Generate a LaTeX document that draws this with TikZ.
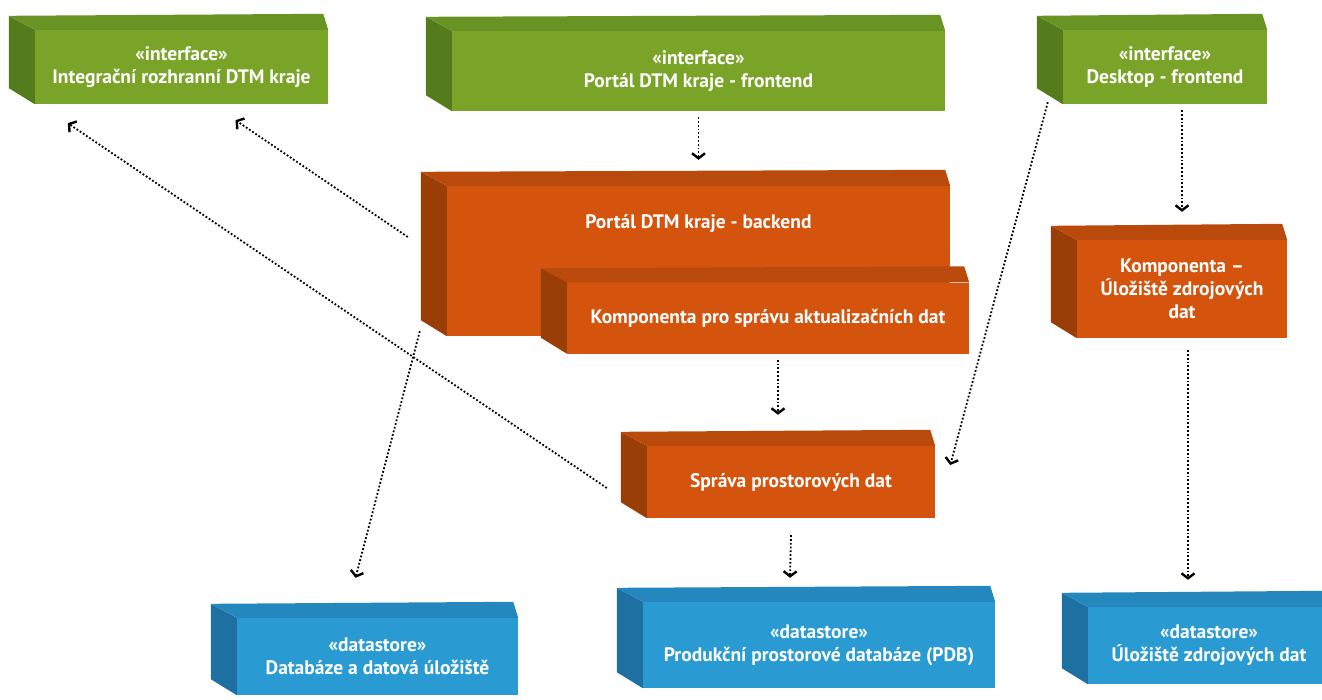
\documentclass[tikz,border=0pt]{standalone}
\usepackage{fontspec}
\setmainfont{PT Sans}
\usetikzlibrary{arrows.meta, positioning}

\definecolor{ifront}{HTML}{7AA428}
\definecolor{itop}{HTML}{699322}
\definecolor{iside}{HTML}{557C1C}
\definecolor{cfront}{HTML}{D4540E}
\definecolor{ctop}{HTML}{BA4A0C}
\definecolor{cside}{HTML}{9A3E08}
\definecolor{dfront}{HTML}{2A9BD2}
\definecolor{dtop}{HTML}{2488BE}
\definecolor{dside}{HTML}{1E70A2}

% side and top faces behind a front face
\newcommand\boxfaces[3]{%
  \fill[#2] (#1.north west) -- ++(-26,-14) -- ([shift={(-26,-16)}]#1.south west) -- (#1.south west) -- cycle;
  \fill[#3] (#1.north west) -- ++(-26,-14) -- ([shift={(-5,-16)}]#1.north east) -- (#1.north east) -- cycle;
}

\begin{document}
\begin{tikzpicture}[x=1pt, y=-1pt,
    front/.style={text=white, font=\bfseries\fontsize{19.5}{23}\selectfont, align=center, inner sep=0pt},
    iface/.style={front, fill=ifront},
    comp/.style={front, fill=cfront},
    store/.style={front, fill=dfront},
    dep/.style={dotted, line width=1.8pt, arrows = {-Straight Barb[length=5pt, width=13pt, line width=2.4pt]}}]

    \useasboundingbox (0,0) rectangle (1322,699);

    %% interfaces
    % Nodes
    \node[iface, minimum width=293pt, minimum height=74pt] (integr) at (181.5,67) {«interface»\\Integrační rozhranní DTM kraje};
    \boxfaces{integr}{iside}{itop}
    \node[iface, minimum width=493pt, minimum height=80pt] (portal) at (698.5,71) {«interface»\\Portál DTM kraje - frontend};
    \boxfaces{portal}{iside}{itop}
    \node[iface, minimum width=204pt, minimum height=74pt] (desktop) at (1165,67) {«interface»\\Desktop - frontend};
    \boxfaces{desktop}{iside}{itop}

    %% components
    % Nodes
    \node[comp, minimum width=503pt, minimum height=150pt, text depth=80pt] (backend) at (698.5,261) {Portál DTM kraje - backend};
    \boxfaces{backend}{cside}{ctop}
    \node[comp, minimum width=402pt, minimum height=71pt] (aktual) at (768,318) {Komponenta pro správu aktualizačních dat};
    \boxfaces{aktual}{cside}{ctop}
    \node[comp, minimum width=210pt, minimum height=98pt] (zdroje) at (1182,289) {Komponenta –\\Úložiště zdrojových\\dat};
    \boxfaces{zdroje}{cside}{ctop}
    \node[comp, minimum width=288pt, minimum height=72pt] (sprava) at (791,482) {Správa prostorových dat};
    \boxfaces{sprava}{cside}{ctop}

    %% datastores
    % Nodes
    \node[store, minimum width=281pt, minimum height=77pt] (databaze) at (377.5,656.5) {«datastore»\\Databáze a datová úložiště};
    \boxfaces{databaze}{dside}{dtop}
    \node[store, minimum width=352pt, minimum height=86pt] (pdb) at (819,645) {«datastore»\\Produkční prostorové databáze (PDB)};
    \boxfaces{pdb}{dside}{dtop}
    \node[store, minimum width=242pt, minimum height=77pt] (uloziste) at (1209,645.5) {«datastore»\\Úložiště zdrojových dat};
    \boxfaces{uloziste}{dside}{dtop}

    % Connections
    \draw[dep] ([shift={(0,6)}]portal.south) -- ([shift={(0,-26)}]backend.north);
    \draw[dep] ([shift={(-39,-24)}]backend.west) -- ([shift={(54,16)}]integr.south);
    \draw[dep] ([shift={(-40,6)}]sprava.west) -- ([shift={(33,19)}]integr.south west);
    \draw[dep] ([shift={(-27,-5)}]backend.south west) -- ([shift={(-22,-40)}]databaze.north);
    \draw[dep] ([shift={(10,6)}]aktual.south) -- ([shift={(-13,-31)}]sprava.north);
    \draw[dep] ([shift={(-15,-2)}]desktop.south west) -- ([shift={(15,-17)}]sprava.east);
    \draw[dep] ([shift={(17,6)}]desktop.south) -- ([shift={(0,-28)}]zdroje.north);
    \draw[dep] ([shift={(0,17)}]sprava.south) -- ([shift={(-29,-24)}]pdb.north);
    \draw[dep] ([shift={(6,12)}]zdroje.south) -- ([shift={(-21,-27)}]uloziste.north);
\end{tikzpicture}
\end{document}
